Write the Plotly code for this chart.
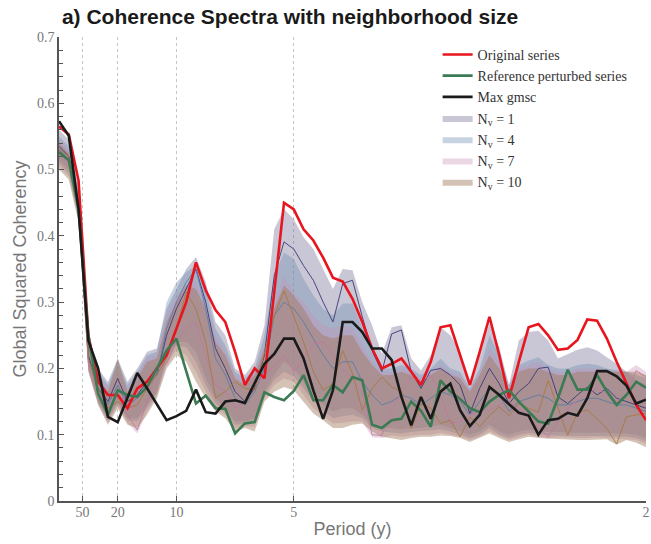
import plotly.graph_objects as go

# frequency grid (cycles / year), k/120 for k = 0..60
n_pts = 61
freq = [k / 120 for k in range(n_pts)]

tick_freqs = [0.02, 0.05, 0.1, 0.2, 0.5]
tick_labels = ["50", "20", "10", "5", "2"]

original = [0.565, 0.553, 0.483, 0.250, 0.180, 0.160, 0.160, 0.140, 0.170, 0.180,
            0.200, 0.220, 0.260, 0.300, 0.360, 0.318, 0.288, 0.270, 0.225, 0.175,
            0.200, 0.185, 0.315, 0.450, 0.440, 0.410, 0.393, 0.367, 0.337, 0.331,
            0.305, 0.270, 0.230, 0.200, 0.207, 0.215, 0.195, 0.175, 0.210, 0.262,
            0.265, 0.220, 0.175, 0.225, 0.278, 0.220, 0.155, 0.210, 0.262, 0.267,
            0.250, 0.228, 0.230, 0.243, 0.274, 0.272, 0.245, 0.210, 0.177, 0.145,
            0.122]

reference = [0.526, 0.514, 0.440, 0.250, 0.162, 0.130, 0.167, 0.160, 0.157, 0.172,
             0.200, 0.227, 0.245, 0.195, 0.147, 0.159, 0.140, 0.139, 0.102, 0.117,
             0.119, 0.164, 0.157, 0.152, 0.166, 0.190, 0.152, 0.152, 0.175, 0.164,
             0.187, 0.182, 0.115, 0.110, 0.122, 0.124, 0.150, 0.136, 0.112, 0.182,
             0.165, 0.154, 0.140, 0.134, 0.150, 0.160, 0.167, 0.150, 0.135, 0.120,
             0.117, 0.155, 0.198, 0.168, 0.168, 0.190, 0.165, 0.145, 0.160, 0.180,
             0.171]

max_gmsc = [0.573, 0.551, 0.440, 0.242, 0.200, 0.127, 0.119, 0.156, 0.193, 0.170,
            0.145, 0.122, 0.128, 0.136, 0.168, 0.134, 0.132, 0.150, 0.152, 0.148,
            0.178, 0.207, 0.222, 0.245, 0.245, 0.215, 0.167, 0.124, 0.167, 0.270,
            0.270, 0.255, 0.230, 0.230, 0.213, 0.157, 0.114, 0.157, 0.124, 0.165,
            0.177, 0.137, 0.113, 0.130, 0.172, 0.160, 0.146, 0.133, 0.129, 0.100,
            0.122, 0.124, 0.133, 0.129, 0.155, 0.196, 0.196, 0.188, 0.174, 0.147,
            0.153]

# Nv = 1
nv1_upper = [0.560, 0.545, 0.475, 0.250, 0.200, 0.180, 0.215, 0.180, 0.200, 0.225,
             0.230, 0.290, 0.320, 0.350, 0.368, 0.330, 0.270, 0.250, 0.200, 0.190,
             0.210, 0.265, 0.410, 0.440, 0.425, 0.398, 0.380, 0.350, 0.320, 0.350,
             0.348, 0.300, 0.265, 0.222, 0.262, 0.265, 0.215, 0.197, 0.220, 0.262,
             0.250, 0.225, 0.172, 0.225, 0.268, 0.232, 0.175, 0.242, 0.255, 0.257,
             0.242, 0.215, 0.222, 0.228, 0.232, 0.227, 0.217, 0.207, 0.195, 0.182,
             0.175]
nv1_lower = [0.515, 0.500, 0.430, 0.200, 0.150, 0.125, 0.150, 0.125, 0.125, 0.145,
             0.165, 0.215, 0.240, 0.240, 0.225, 0.185, 0.155, 0.140, 0.120, 0.120,
             0.125, 0.165, 0.190, 0.210, 0.200, 0.180, 0.160, 0.145, 0.135, 0.140,
             0.140, 0.130, 0.115, 0.110, 0.110, 0.108, 0.110, 0.110, 0.112, 0.115,
             0.110, 0.105, 0.100, 0.105, 0.115, 0.105, 0.100, 0.105, 0.108, 0.105,
             0.105, 0.104, 0.103, 0.103, 0.103, 0.104, 0.103, 0.102, 0.102, 0.100,
             0.095]
nv1_mid = [0.535, 0.520, 0.450, 0.220, 0.170, 0.150, 0.185, 0.150, 0.160, 0.180,
           0.190, 0.250, 0.290, 0.320, 0.350, 0.300, 0.230, 0.200, 0.165, 0.150,
           0.170, 0.220, 0.340, 0.391, 0.380, 0.355, 0.333, 0.300, 0.270, 0.328,
           0.333, 0.278, 0.227, 0.195, 0.252, 0.258, 0.195, 0.170, 0.197, 0.200,
           0.190, 0.175, 0.132, 0.170, 0.200, 0.177, 0.147, 0.165, 0.177, 0.200,
           0.202, 0.157, 0.147, 0.160, 0.172, 0.160, 0.170, 0.155, 0.150, 0.145,
           0.140]

# Nv = 4
nv4_upper = [0.550, 0.535, 0.465, 0.245, 0.195, 0.175, 0.210, 0.175, 0.195, 0.220,
             0.225, 0.300, 0.330, 0.345, 0.355, 0.320, 0.260, 0.235, 0.195, 0.185,
             0.200, 0.250, 0.340, 0.375, 0.365, 0.335, 0.310, 0.290, 0.280, 0.298,
             0.298, 0.262, 0.230, 0.200, 0.200, 0.205, 0.200, 0.190, 0.200, 0.215,
             0.200, 0.195, 0.170, 0.200, 0.250, 0.220, 0.175, 0.205, 0.212, 0.217,
             0.205, 0.200, 0.200, 0.205, 0.207, 0.205, 0.200, 0.198, 0.195, 0.190,
             0.185]
nv4_lower = [0.510, 0.495, 0.427, 0.198, 0.148, 0.122, 0.147, 0.122, 0.120, 0.140,
             0.162, 0.210, 0.235, 0.232, 0.210, 0.175, 0.148, 0.135, 0.115, 0.117,
             0.118, 0.160, 0.182, 0.195, 0.188, 0.170, 0.150, 0.137, 0.125, 0.128,
             0.130, 0.125, 0.110, 0.105, 0.104, 0.102, 0.104, 0.105, 0.106, 0.108,
             0.105, 0.100, 0.095, 0.100, 0.110, 0.100, 0.095, 0.100, 0.103, 0.100,
             0.100, 0.099, 0.098, 0.098, 0.098, 0.099, 0.098, 0.097, 0.097, 0.095,
             0.090]
nv4_mid = [0.530, 0.515, 0.445, 0.215, 0.170, 0.145, 0.175, 0.145, 0.155, 0.175,
           0.190, 0.260, 0.300, 0.330, 0.350, 0.290, 0.215, 0.190, 0.155, 0.145,
           0.165, 0.200, 0.280, 0.300, 0.290, 0.270, 0.245, 0.220, 0.200, 0.210,
           0.210, 0.180, 0.160, 0.145, 0.150, 0.160, 0.155, 0.145, 0.155, 0.165,
           0.160, 0.150, 0.130, 0.150, 0.170, 0.160, 0.135, 0.150, 0.155, 0.160,
           0.155, 0.145, 0.145, 0.150, 0.155, 0.155, 0.150, 0.145, 0.145, 0.140,
           0.135]

# Nv = 7
nv7_upper = [0.545, 0.530, 0.460, 0.240, 0.190, 0.170, 0.200, 0.170, 0.190, 0.215,
             0.220, 0.280, 0.310, 0.325, 0.330, 0.300, 0.250, 0.225, 0.190, 0.180,
             0.195, 0.235, 0.300, 0.338, 0.315, 0.300, 0.280, 0.265, 0.260, 0.265,
             0.262, 0.235, 0.210, 0.195, 0.195, 0.200, 0.195, 0.185, 0.195, 0.205,
             0.195, 0.190, 0.168, 0.195, 0.230, 0.210, 0.170, 0.200, 0.205, 0.210,
             0.200, 0.195, 0.195, 0.200, 0.200, 0.200, 0.198, 0.195, 0.195, 0.205,
             0.195]
nv7_lower = [0.505, 0.490, 0.424, 0.196, 0.146, 0.118, 0.143, 0.118, 0.102, 0.135,
             0.158, 0.205, 0.228, 0.220, 0.195, 0.165, 0.140, 0.130, 0.110, 0.113,
             0.112, 0.155, 0.175, 0.185, 0.180, 0.160, 0.140, 0.128, 0.117, 0.118,
             0.120, 0.120, 0.096, 0.095, 0.099, 0.097, 0.099, 0.100, 0.100, 0.103,
             0.100, 0.097, 0.092, 0.097, 0.105, 0.098, 0.092, 0.096, 0.100, 0.097,
             0.094, 0.096, 0.095, 0.095, 0.095, 0.096, 0.095, 0.094, 0.094, 0.092,
             0.086]
nv7_mid = [0.525, 0.510, 0.440, 0.210, 0.165, 0.140, 0.160, 0.130, 0.107, 0.150,
           0.200, 0.207, 0.242, 0.260, 0.270, 0.220, 0.175, 0.165, 0.140, 0.150,
           0.175, 0.187, 0.205, 0.220, 0.195, 0.215, 0.237, 0.240, 0.220, 0.200,
           0.185, 0.164, 0.100, 0.099, 0.137, 0.165, 0.187, 0.180, 0.190, 0.160,
           0.117, 0.120, 0.130, 0.135, 0.137, 0.145, 0.150, 0.140, 0.130, 0.110,
           0.097, 0.120, 0.140, 0.152, 0.162, 0.170, 0.160, 0.150, 0.160, 0.197,
           0.187]

# Nv = 10
nv10_upper = [0.540, 0.525, 0.455, 0.235, 0.185, 0.165, 0.215, 0.165, 0.185, 0.210,
              0.215, 0.270, 0.300, 0.325, 0.320, 0.290, 0.240, 0.220, 0.185, 0.175,
              0.190, 0.230, 0.290, 0.325, 0.310, 0.290, 0.265, 0.250, 0.245, 0.250,
              0.250, 0.225, 0.205, 0.190, 0.190, 0.195, 0.190, 0.180, 0.190, 0.200,
              0.190, 0.185, 0.165, 0.190, 0.220, 0.200, 0.168, 0.195, 0.200, 0.200,
              0.195, 0.190, 0.190, 0.195, 0.195, 0.195, 0.195, 0.195, 0.195, 0.195,
              0.190]
nv10_lower = [0.500, 0.485, 0.420, 0.195, 0.145, 0.115, 0.140, 0.115, 0.110, 0.130,
              0.155, 0.200, 0.220, 0.210, 0.180, 0.155, 0.135, 0.125, 0.105, 0.110,
              0.105, 0.150, 0.165, 0.172, 0.167, 0.150, 0.132, 0.122, 0.110, 0.110,
              0.115, 0.117, 0.105, 0.097, 0.095, 0.092, 0.095, 0.097, 0.097, 0.099,
              0.098, 0.095, 0.089, 0.095, 0.102, 0.095, 0.089, 0.093, 0.097, 0.095,
              0.094, 0.093, 0.092, 0.092, 0.092, 0.093, 0.093, 0.085, 0.092, 0.088,
              0.081]
nv10_mid = [0.530, 0.520, 0.445, 0.215, 0.170, 0.140, 0.150, 0.140, 0.145, 0.170,
            0.190, 0.215, 0.260, 0.315, 0.290, 0.240, 0.155, 0.165, 0.180, 0.170,
            0.167, 0.222, 0.280, 0.317, 0.280, 0.240, 0.195, 0.167, 0.177, 0.227,
            0.192, 0.137, 0.170, 0.187, 0.172, 0.165, 0.109, 0.147, 0.140, 0.117,
            0.122, 0.097, 0.127, 0.112, 0.129, 0.142, 0.129, 0.147, 0.140, 0.134,
            0.182, 0.142, 0.099, 0.134, 0.137, 0.124, 0.109, 0.086, 0.127, 0.130,
            0.132]

bands = [
    ("N<sub>v</sub> = 1", nv1_lower, nv1_upper, nv1_mid, "rgba(120,115,150,0.40)", "#3b3a78"),
    ("N<sub>v</sub> = 4", nv4_lower, nv4_upper, nv4_mid, "rgba(115,145,180,0.40)", "#5b7ea6"),
    ("N<sub>v</sub> = 7", nv7_lower, nv7_upper, nv7_mid, "rgba(200,145,180,0.36)", "#c27aa0"),
    ("N<sub>v</sub> = 10", nv10_lower, nv10_upper, nv10_mid, "rgba(160,120,90,0.45)", "#a87a42"),
]

fig = go.Figure()

for i, (name, lo, up, mid, fcol, lcol) in enumerate(bands):
    fig.add_trace(go.Scatter(x=freq, y=lo, mode="lines", line=dict(width=0, color=fcol),
                             showlegend=False, hoverinfo="skip"))
    fig.add_trace(go.Scatter(x=freq, y=up, mode="lines", line=dict(width=0, color=fcol),
                             fill="tonexty", fillcolor=fcol, name=name, legendrank=10 + i))
for i, (name, lo, up, mid, fcol, lcol) in enumerate(bands):
    fig.add_trace(go.Scatter(x=freq, y=mid, mode="lines", line=dict(width=1, color=lcol),
                             showlegend=False, opacity=0.9))

fig.add_trace(go.Scatter(x=freq, y=original, mode="lines", name="Original series",
                         line=dict(color="#e8141e", width=2.6), legendrank=1))
fig.add_trace(go.Scatter(x=freq, y=reference, mode="lines", name="Reference perturbed series",
                         line=dict(color="#3b7a52", width=2.6), legendrank=2))
fig.add_trace(go.Scatter(x=freq, y=max_gmsc, mode="lines", name="Max gmsc",
                         line=dict(color="#1a1a1a", width=2.6), legendrank=3))

fig.update_layout(
    width=651, height=544,
    margin=dict(l=59, r=5, t=37, b=43, autoexpand=False),
    paper_bgcolor="white", plot_bgcolor="white",
    title=dict(text="<b>a) Coherence Spectra with neighborhood size</b>",
               font=dict(family="Liberation Sans, Arial, sans-serif", size=21, color="#1a1a1a"),
               x=0.005, xref="paper", xanchor="left", y=0.969, yref="container", yanchor="middle",
               automargin=False),
    legend=dict(x=0.645, y=0.996, xanchor="left", yanchor="top", bgcolor="rgba(0,0,0,0)",
                traceorder="normal",
                font=dict(family="Liberation Serif, Times New Roman, serif", size=14, color="#333"),
                tracegroupgap=0, itemwidth=30),
    showlegend=True,
)

fig.update_xaxes(
    range=[0, 0.5], tickvals=tick_freqs, ticktext=tick_labels,
    showgrid=True, gridcolor="#c4c4c4", griddash="dot", gridwidth=1,
    showline=True, linecolor="#555", linewidth=1.5, mirror=False,
    ticks="inside", ticklen=5, tickcolor="#555", ticklabelstandoff=-3,
    tickfont=dict(family="Liberation Serif, Times New Roman, serif", size=14, color="#777"),
    title=dict(text="Period (y)", font=dict(family="Liberation Sans, Arial, sans-serif", size=18, color="#777"),
               standoff=4),
    zeroline=False, automargin=False,
)
fig.update_yaxes(
    range=[0, 0.7], dtick=0.1, tick0=0,
    showgrid=False, showline=True, linecolor="#555", linewidth=1.5, mirror=False,
    ticks="inside", ticklen=5, tickcolor="#555",
    minor=dict(dtick=0.02, ticks="inside", ticklen=4, tickcolor="#555", showgrid=False),
    tickfont=dict(family="Liberation Serif, Times New Roman, serif", size=14, color="#777"),
    title=dict(text="Global Squared Coherency", font=dict(family="Liberation Sans, Arial, sans-serif", size=18, color="#777"),
               standoff=6),
    zeroline=False, automargin=False,
)

fig.write_html("out.html", config={"displayModeBar": False},
               post_script="document.body.style.margin='0px';")
